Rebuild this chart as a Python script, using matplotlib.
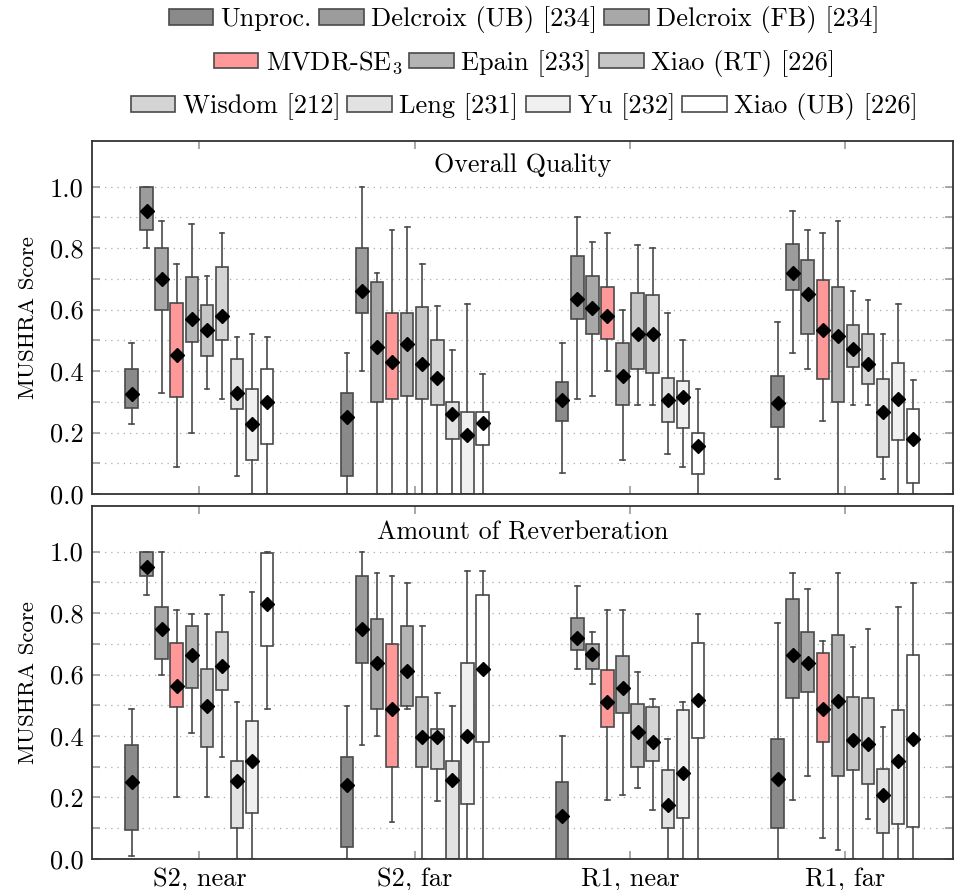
import numpy as np
import matplotlib
matplotlib.use("Agg")
import matplotlib.pyplot as plt
from matplotlib.patches import Patch

plt.rcParams['font.family'] = 'serif'
plt.rcParams['font.serif'] = ['cmr10']
plt.rcParams['mathtext.fontset'] = 'cm'
plt.rcParams['axes.unicode_minus'] = False
plt.rcParams['axes.formatter.use_mathtext'] = True

groups = ["S2, near", "S2, far", "R1, near", "R1, far"]
methods = ["Unproc.", "Delcroix (UB) [234]", "Delcroix (FB) [234]",
           "MVDR-SE$_3$", "Epain [233]", "Xiao (RT) [226]",
           "Wisdom [212]", "Leng [231]", "Yu [232]", "Xiao (UB) [226]"]
colors = ["#8a8a8a", "#9c9c9c", "#a8a8a8", "#ff9999", "#b4b4b4",
          "#c6c6c6", "#d4d4d4", "#e2e2e2", "#f0f0f0", "#ffffff"]

# per box: (whislo, q1, q3, whishi, mean); groups x methods
quality = [
    [(0.229, 0.279, 0.408, 0.491, 0.324), (0.80, 0.86, 1.0, 1.0, 0.92),
     (0.33, 0.60, 0.80, 0.89, 0.70), (0.089, 0.314, 0.62, 0.75, 0.452),
     (0.199, 0.494, 0.706, 0.88, 0.57), (0.34, 0.448, 0.615, 0.71, 0.533),
     (0.31, 0.50, 0.74, 0.85, 0.578), (0.059, 0.275, 0.44, 0.51, 0.33),
     (0.0, 0.11, 0.341, 0.521, 0.229), (0.0, 0.164, 0.408, 0.51, 0.299)],
    [(0.0, 0.059, 0.329, 0.46, 0.249), (0.40, 0.589, 0.80, 1.0, 0.662),
     (0.0, 0.299, 0.69, 0.72, 0.479), (0.0, 0.309, 0.589, 0.86, 0.429),
     (0.0, 0.318, 0.589, 0.87, 0.489), (0.0, 0.309, 0.61, 0.75, 0.422),
     (0.0, 0.289, 0.50, 0.611, 0.378), (0.0, 0.179, 0.299, 0.469, 0.26),
     (0.0, 0.0, 0.268, 0.619, 0.191), (0.0, 0.16, 0.268, 0.389, 0.23)],
    [(0.069, 0.239, 0.364, 0.49, 0.305), (0.309, 0.569, 0.774, 0.90, 0.636),
     (0.319, 0.52, 0.709, 0.819, 0.604), (0.40, 0.504, 0.675, 0.849, 0.578),
     (0.11, 0.289, 0.49, 0.60, 0.383), (0.289, 0.408, 0.655, 0.809, 0.52),
     (0.289, 0.394, 0.649, 0.80, 0.52), (0.129, 0.233, 0.379, 0.59, 0.307),
     (0.089, 0.214, 0.369, 0.50, 0.316), (0.0, 0.064, 0.199, 0.34, 0.155)],
    [(0.049, 0.219, 0.383, 0.559, 0.295), (0.46, 0.664, 0.814, 0.92, 0.72),
     (0.408, 0.52, 0.76, 0.86, 0.65), (0.239, 0.373, 0.695, 0.849, 0.532),
     (0.0, 0.299, 0.675, 0.89, 0.515), (0.289, 0.414, 0.549, 0.659, 0.473),
     (0.289, 0.358, 0.52, 0.63, 0.423), (0.049, 0.119, 0.373, 0.52, 0.268),
     (0.0, 0.174, 0.425, 0.619, 0.309), (0.0, 0.035, 0.275, 0.37, 0.179)],
]
reverb = [
    [(0.009, 0.093, 0.369, 0.489, 0.249), (0.859, 0.919, 1.0, 1.0, 0.951),
     (0.60, 0.649, 0.819, 1.0, 0.747), (0.20, 0.493, 0.704, 0.809, 0.564),
     (0.409, 0.557, 0.759, 0.798, 0.663), (0.20, 0.363, 0.618, 0.798, 0.497),
     (0.33, 0.549, 0.739, 0.859, 0.628), (0.0, 0.099, 0.32, 0.51, 0.255),
     (0.0, 0.149, 0.449, 0.87, 0.318), (0.489, 0.694, 0.995, 0.998, 0.829)],
    [(0.0, 0.039, 0.333, 0.499, 0.241), (0.369, 0.639, 0.919, 1.0, 0.748),
     (0.399, 0.489, 0.78, 0.929, 0.636), (0.119, 0.298, 0.698, 0.919, 0.487),
     (0.489, 0.499, 0.759, 0.899, 0.61), (0.0, 0.298, 0.528, 0.759, 0.395),
     (0.189, 0.294, 0.424, 0.539, 0.395), (0.0, 0.0, 0.319, 0.499, 0.256),
     (0.0, 0.179, 0.639, 0.938, 0.40), (0.0, 0.38, 0.859, 0.938, 0.617)],
    [(0.0, 0.0, 0.249, 0.399, 0.141), (0.619, 0.679, 0.784, 0.889, 0.719),
     (0.57, 0.619, 0.698, 0.739, 0.666), (0.19, 0.428, 0.614, 0.81, 0.509),
     (0.209, 0.474, 0.659, 0.81, 0.557), (0.229, 0.298, 0.504, 0.608, 0.412),
     (0.159, 0.319, 0.493, 0.52, 0.379), (0.0, 0.099, 0.288, 0.389, 0.175),
     (0.0, 0.133, 0.484, 0.51, 0.279), (0.0, 0.394, 0.704, 0.798, 0.516)],
    [(0.0, 0.099, 0.389, 0.769, 0.26), (0.19, 0.524, 0.845, 0.929, 0.664),
     (0.269, 0.544, 0.739, 0.878, 0.637), (0.069, 0.38, 0.669, 0.709, 0.489),
     (0.029, 0.269, 0.729, 0.929, 0.514), (0.0, 0.288, 0.528, 0.69, 0.386),
     (0.13, 0.244, 0.524, 0.749, 0.373), (0.0, 0.085, 0.294, 0.428, 0.207),
     (0.0, 0.115, 0.484, 0.819, 0.318), (0.0, 0.104, 0.664, 0.899, 0.389)],
]

panels = [("Overall Quality", quality, 0.932), ("Amount of Reverberation", reverb, 0.923)]

fig = plt.figure(figsize=(9.55, 8.90), dpi=100)
ax_top = fig.add_axes([0.096, 0.445, 0.902, 0.397])
ax_bot = fig.add_axes([0.096, 0.035, 0.902, 0.397])

step = 0.07
width = 0.058
for ax, (title, data, ty) in zip([ax_top, ax_bot], panels):
    for g in range(len(groups)):
        for m in range(len(methods)):
            lo, q1, q3, hi, mean = data[g][m]
            st = dict(whislo=lo, q1=q1, med=mean, q3=q3, whishi=hi, mean=mean, fliers=[])
            pos = g + 1 + (m - 4.5) * step
            ax.bxp([st], positions=[pos], widths=width, capwidths=0.022,
                   patch_artist=True, showmeans=True, manage_ticks=False,
                   boxprops=dict(facecolor=colors[m], edgecolor="#4a4a4a", linewidth=1.2),
                   whiskerprops=dict(color="#4a4a4a", linewidth=1.2),
                   capprops=dict(color="#4a4a4a", linewidth=1.2),
                   medianprops=dict(linewidth=0),
                   meanprops=dict(marker="D", markerfacecolor="black",
                                  markeredgecolor="black", markersize=7))
    ax.set_xlim(0.5, 4.5)
    ax.set_ylim(0, 1.15)
    ax.set_yticks(np.arange(0, 1.01, 0.2))
    ax.set_yticks(np.arange(0.1, 1.0, 0.2), minor=True)
    ax.set_yticklabels(["%.1f" % v for v in np.arange(0, 1.01, 0.2)])
    ax.set_xticks(range(1, 5))
    ax.grid(axis="y", which="both", linestyle=(0, (1, 4)), color="#aaaaaa", linewidth=0.9)
    ax.set_axisbelow(True)
    ax.tick_params(axis="both", which="both", direction="in", color="#999999",
                   labelsize=19, top=True, right=True, length=6, width=1.2, pad=6)
    ax.set_ylabel("MUSHRA Score", fontsize=16.5, labelpad=8)
    ax.text(0.5, ty, title, transform=ax.transAxes, ha="center", va="center",
            fontsize=18.7)
    for s in ax.spines.values():
        s.set_color("#333333")
        s.set_linewidth(1.3)

ax_top.set_xticklabels([])
ax_bot.set_xticklabels(groups)

handles = [Patch(facecolor=c, edgecolor="#4a4a4a", linewidth=1.2) for c in colors]
rows = [(0, 3, 0.978), (3, 6, 0.929), (6, 10, 0.880)]
for a, b, y in rows:
    fig.legend(handles[a:b], methods[a:b], loc="center", bbox_to_anchor=(0.549, y),
               ncol=b - a, frameon=False, fontsize=19, handlelength=1.7,
               handleheight=0.55, handletextpad=0.27, columnspacing=0.27,
               borderpad=0, borderaxespad=0)

fig.savefig("out.png", dpi=100)
